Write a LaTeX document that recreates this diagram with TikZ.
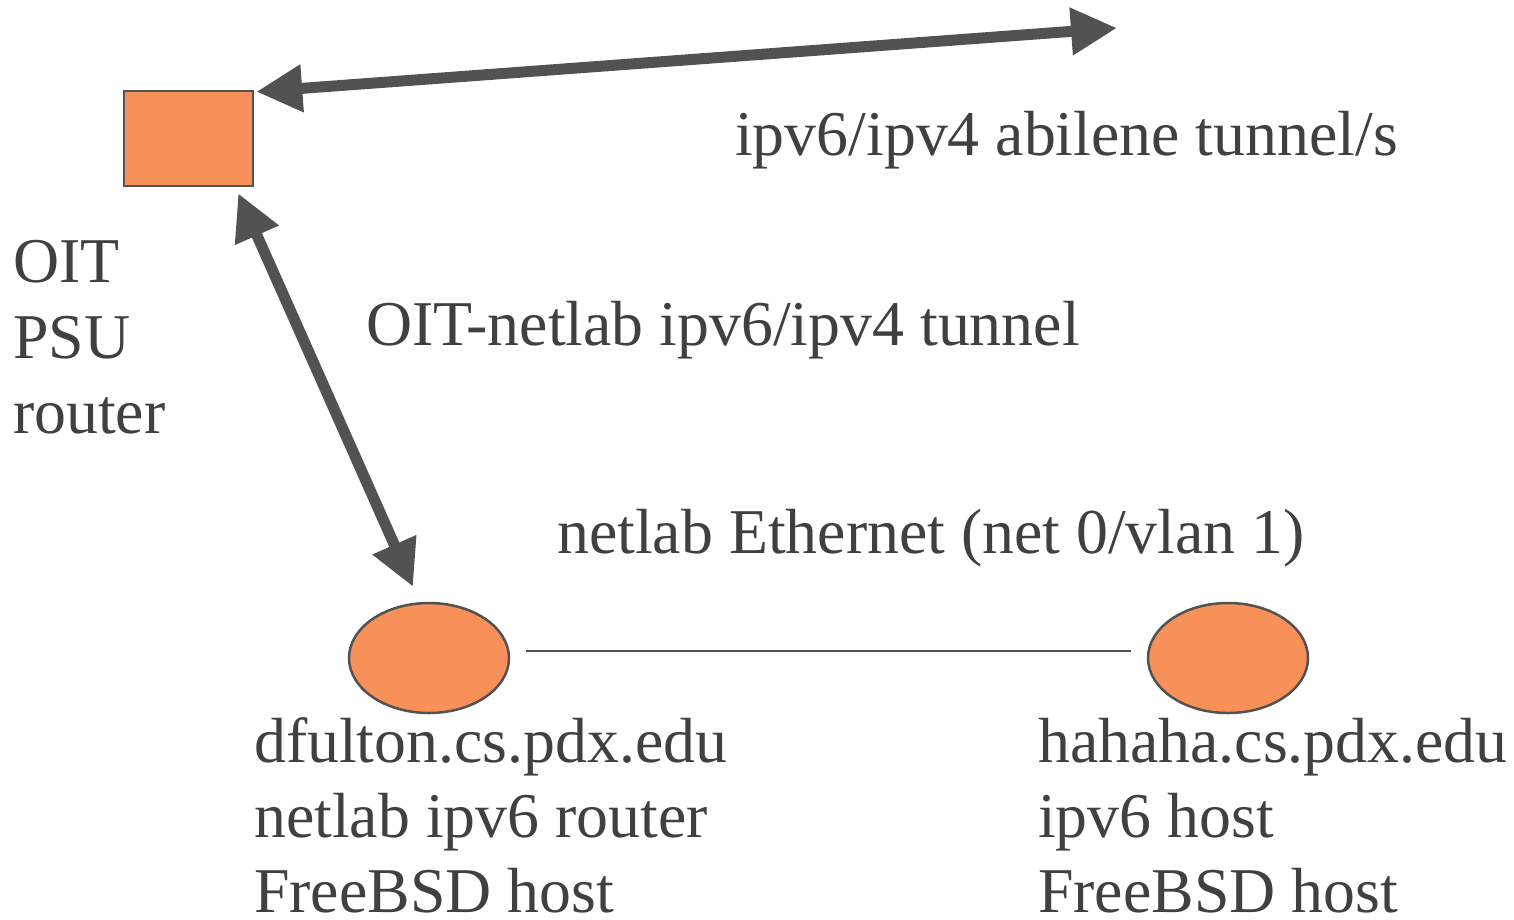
\documentclass[tikz,border=0pt]{standalone}
\usepackage{fontspec}
\setmainfont{Liberation Serif}
\usetikzlibrary{arrows.meta,shapes.geometric}
\definecolor{nodeorange}{RGB}{247,145,89}
\definecolor{edgegray}{RGB}{82,82,82}
\definecolor{txtgray}{RGB}{64,64,64}
\begin{document}
\begin{tikzpicture}[x=1pt,y=-1pt,
  lbl/.style={anchor=base west,inner sep=0pt,text=txtgray,font=\fontsize{63.8}{75}\selectfont,align=left},
  thick arrow/.style={draw=edgegray,line width=11pt,{Triangle[length=46pt,width=45pt]}-{Triangle[length=46pt,width=45pt]}},
  dev/.style={draw=edgegray,line width=2.5pt,fill=nodeorange,inner sep=0pt}]
\useasboundingbox (0,0) rectangle (1514,919);
\node[dev,minimum width=129pt,minimum height=95pt] (r) at (188.5,138.5) {};
\node[dev,ellipse,minimum width=160pt,minimum height=110pt] (e1) at (429,658) {};
\node[dev,ellipse,minimum width=160pt,minimum height=110pt] (e2) at (1228,658) {};
\coordinate (far) at (1117,28);
\draw[thick arrow] ([xshift=2pt,yshift=-2pt]r.north east) -- (far);
\draw[thick arrow] ([xshift=-16pt,yshift=-6pt]r.south east) -- ([xshift=-16pt,yshift=15pt]e1.north);
\draw[edgegray,line width=2pt] ([xshift=16pt,yshift=7pt]e1.east) -- ([xshift=-16pt,yshift=7pt]e2.west);
\node[lbl] (t1) at (735,155) {ipv6/ipv4 abilene tunnel/s};
\node[lbl] (t2) at (366,345) {OIT-netlab ipv6/ipv4 tunnel};
\node[lbl] (t3) at (557,553) {netlab Ethernet (net 0/vlan 1)};
\node[lbl] (t4) at (13,282) {OIT};
\node[lbl] (t5) at (13,358) {PSU};
\node[lbl] (t6) at (13,433) {router};
\node[lbl] (t7) at (254,762) {dfulton.cs.pdx.edu};
\node[lbl] (t8) at (254,837) {netlab ipv6 router};
\node[lbl] (t9) at (254,912) {FreeBSD host};
\node[lbl] (t10) at (1038,762) {hahaha.cs.pdx.edu};
\node[lbl] (t11) at (1038,837) {ipv6 host};
\node[lbl] (t12) at (1038,912) {FreeBSD host};
\end{tikzpicture}
\end{document}
